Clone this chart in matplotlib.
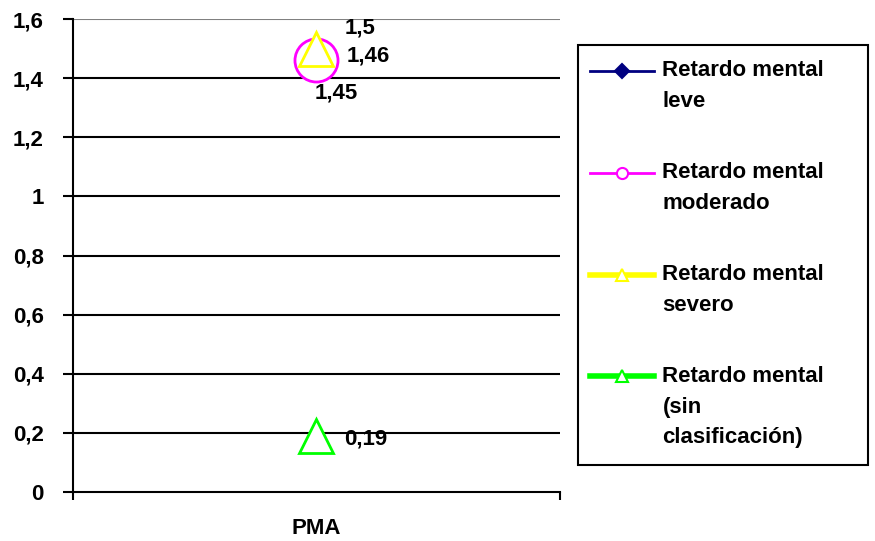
import matplotlib.pyplot as plt
from matplotlib.patches import Rectangle
from matplotlib.legend_handler import HandlerLine2D
import numpy as np

plt.rcParams['font.family'] = ['Liberation Sans', 'DejaVu Sans']
plt.rcParams['font.weight'] = 'bold'

# Data
categories = ['PMA']
series_names = ['Retardo mental\nleve', 'Retardo mental\nmoderado',
                'Retardo mental\nsevero', 'Retardo mental\n(sin\nclasificación)']
values = [1.45, 1.46, 1.5, 0.19]
value_labels = ['1,45', '1,46', '1,5', '0,19']
y_ticks = [0, 0.2, 0.4, 0.6, 0.8, 1.0, 1.2, 1.4, 1.6]
y_tick_labels = ['0', '0,2', '0,4', '0,6', '0,8', '1', '1,2', '1,4', '1,6']

colors = ['#000080', '#FF00FF', '#FFFF00', '#00FF00']
markers = ['D', 'o', '^', '^']
sizes = [6, 31, 25, 25]
leg_sizes = [7, 8, 9, 9]
leg_lw = [2, 2, 4, 4]
label_offsets = [(-1.5, -21), (22, 3), (20, 15), (20, -2)]


# legend handle lined up with the first line of a multi-line label
class FirstLineHandler(HandlerLine2D):
    def __init__(self, shift, **kw):
        super().__init__(**kw)
        self.shift = shift

    def create_artists(self, legend, orig_handle, xdescent, ydescent,
                       width, height, fontsize, trans):
        arts = super().create_artists(legend, orig_handle, xdescent, ydescent,
                                      width, height, fontsize, trans)
        for a in arts:
            a.set_ydata(np.asarray(a.get_ydata()) + self.shift)
        return arts


fig = plt.figure(figsize=(8.75, 5.41), dpi=100)
ax = fig.add_axes([0.0834, 0.0906, 0.5566, 0.8742])

x = np.arange(len(categories))

# Grid lines
for t in y_ticks[1:]:
    ax.axhline(t, color='black' if t < 1.6 else 'grey', lw=1.5, zorder=1)

handles = []
for i in range(len(values)):
    ax.plot(x, [values[i]], marker=markers[i], markersize=sizes[i],
            markerfacecolor=colors[i] if i == 0 else 'white',
            markeredgecolor=colors[i], markeredgewidth=2, linestyle='none',
            zorder=3 + i)
    h, = ax.plot([], [], color=colors[i], lw=leg_lw[i], marker=markers[i],
                 markersize=leg_sizes[i],
                 markerfacecolor=colors[i] if i == 0 else 'white',
                 markeredgecolor=colors[i], markeredgewidth=1.5)
    handles.append(h)
    ax.annotate(value_labels[i], (x[0], values[i]), xytext=label_offsets[i],
                textcoords='offset points', ha='left',
                va='center', fontsize=16, fontweight='bold', zorder=10)

ax.set_xlim(-0.5, 0.5)
ax.set_ylim(0, 1.6)
ax.set_yticks(y_ticks)
ax.set_yticklabels(y_tick_labels, fontsize=16, fontweight='bold')
ax.set_xticks([-0.5, 0.5], minor=False)
ax.set_xticklabels(['', ''])
ax.set_xticks(x, minor=True)
ax.set_xticklabels(categories, minor=True, fontsize=16, fontweight='bold')
ax.tick_params(axis='x', which='minor', length=0, pad=19)
ax.tick_params(axis='x', which='major', length=6, width=1.5, direction='out')
ax.tick_params(axis='y', length=7, width=1.5, direction='out', pad=14)

ax.spines['top'].set_visible(False)
ax.spines['right'].set_visible(False)
ax.spines['left'].set_linewidth(1.5)
ax.spines['bottom'].set_linewidth(1.5)

# legend frame drawn separately to match the reference box
fig.patches.append(Rectangle((578 / 875, 1 - 465 / 541), 290 / 875, 420 / 541,
                             transform=fig.transFigure, fill=False,
                             edgecolor='black', lw=1.5))
line_pt = 22.3
handler_map = {h: FirstLineHandler((name.count('\n')) / 2 * line_pt)
               for h, name in zip(handles, series_names)}
leg = fig.legend(handles, series_names, loc='upper left',
                 bbox_to_anchor=(590 / 875, 1 - 60 / 541), frameon=False,
                 fontsize=16, handlelength=2.9, handletextpad=0.36,
                 labelspacing=2.27, borderpad=0, borderaxespad=0,
                 handler_map=handler_map)
for t in leg.get_texts():
    t.set_fontweight('bold')
    t.set_linespacing(1.6)

fig.savefig('out.png', dpi=100)
